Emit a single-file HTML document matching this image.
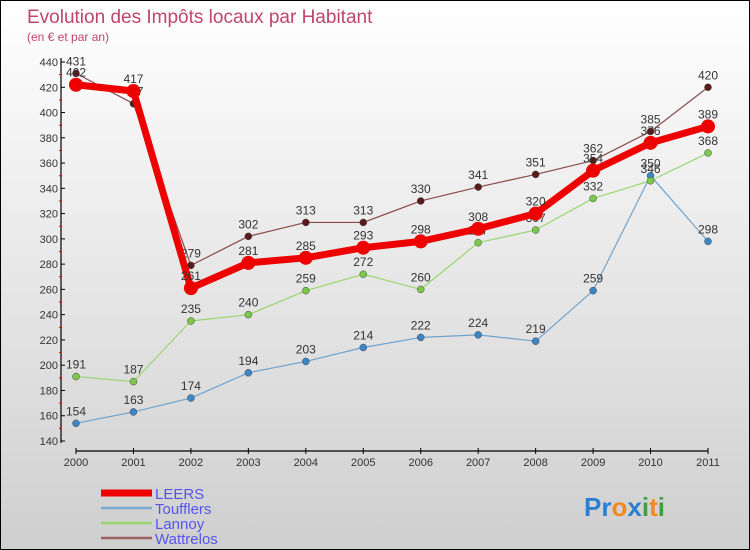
<!DOCTYPE html>
<html><head><meta charset="utf-8"><style>
body{margin:0;}
#wrap{position:relative;width:750px;height:550px;box-sizing:border-box;border:1px solid #000;background:linear-gradient(#ffffff,#cfcfcf);font-family:"Liberation Sans",sans-serif;overflow:hidden}
svg{position:absolute;left:0;top:0}
</style></head><body>
<div id="wrap">
<svg id="c" width="750" height="550">
<text x="26" y="22" font-size="19" fill="#c0456a">Evolution des Impôts locaux par Habitant</text>
<text x="26" y="40" font-size="12" fill="#c0456a">(en € et par an)</text>
</svg>
</div>
<script>
const years=[2000,2001,2002,2003,2004,2005,2006,2007,2008,2009,2010,2011];
const leers=[422,417,261,281,285,293,298,308,320,354,376,389];
const toufflers=[154,163,174,194,203,214,222,224,219,259,350,298];
const lannoy=[191,187,235,240,259,272,260,297,307,332,346,368];
const wattrelos=[431,407,279,302,313,313,330,341,351,362,385,420];
const yTicks=[140,160,180,200,220,240,260,280,300,320,340,360,380,400,420,440];
const svg=document.getElementById('c');const NS='http://www.w3.org/2000/svg';
function X(i){return 75+i*(707-75)/11;}
function Y(v){return 440-(v-140)*(379/300);}
function mk(t,a,p){const e=document.createElementNS(NS,t);for(const k in a)e.setAttribute(k,a[k]);(p||svg).appendChild(e);return e;}
// axes
let ya=mk('line',{x1:60,y1:57,x2:60,y2:442,stroke:'#000','stroke-width':1.2});


let xa=mk('line',{x1:75,y1:450,x2:707,y2:450,stroke:'#000','stroke-width':1.2});


yTicks.forEach(v=>{
  mk('line',{x1:60,y1:Y(v),x2:64,y2:Y(v),stroke:'#000'});
  if(v<440)mk('line',{x1:58,y1:Y(v+10),x2:61,y2:Y(v+10),stroke:'#e00'});
  const t=mk('text',{x:57,y:Y(v)+4,'font-size':11,'text-anchor':'end',fill:'#333'});t.textContent=v;
  
  
});
years.forEach((y,i)=>{
  mk('line',{x1:X(i),y1:447,x2:X(i),y2:453,stroke:'#000'});
  const t=mk('text',{x:X(i),y:465,'font-size':11,'text-anchor':'middle',fill:'#333'});t.textContent=y;
  
  
});
const series=[
 {n:'toufflers',d:toufflers,c:'#6fa3cf',w:1.2,r:3.5,f:'#3d86c6'},
 {n:'lannoy',d:lannoy,c:'#9ad66f',w:1.2,r:3.5,f:'#7cc94a'},
 {n:'wattrelos',d:wattrelos,c:'#8a4a4a',w:1.2,r:3.5,f:'#5a1a1a'},
 {n:'leers',d:leers,c:'#ee0000',w:7,r:7,f:'#ee0000'}];
series.forEach(s=>{
  const g=mk('g',{});
  
  
  const l=mk('polyline',{points:s.d.map((v,i)=>X(i)+','+Y(v)).join(' '),fill:'none',stroke:s.c,'stroke-width':s.w,'stroke-linejoin':'round'},g);
  
  
  s.d.forEach((v,i)=>{
    const p=mk('circle',{cx:X(i),cy:Y(v),r:s.r,fill:s.f,stroke:'#444','stroke-width':s.n=='leers'?0:0.5},g);
    
    
    const t=mk('text',{x:X(i),y:Y(v)-8,'font-size':12,'text-anchor':'middle',fill:'#333'},g);t.textContent=v;
    
    
  });
});
// legend
const leg=[['LEERS','#ee0000',7],['Toufflers','#7aaad2',2.5],['Lannoy','#9ad66f',2.5],['Wattrelos','#9a6060',2.5]];
leg.forEach((e,i)=>{
  const y=492+i*15;
  const g=mk('g',{});
  
  
  mk('line',{x1:100,y1:y,x2:151,y2:y,stroke:e[1],'stroke-width':e[2]},g);
  const t=mk('text',{x:154,y:y+6,'font-size':15,fill:'#5555ee'},g);t.textContent=e[0];
});
const lg=mk('text',{x:583,y:515,'font-size':26,'font-weight':'bold'});


[['Pr','#2b7fd0'],['o','#f08a20'],['x','#2b7fd0'],['i','#40a040'],['t','#f08a20'],['i','#40a040']].forEach(a=>{const s=mk('tspan',{fill:a[1]},lg);s.textContent=a[0];});
</script>
</body></html>
